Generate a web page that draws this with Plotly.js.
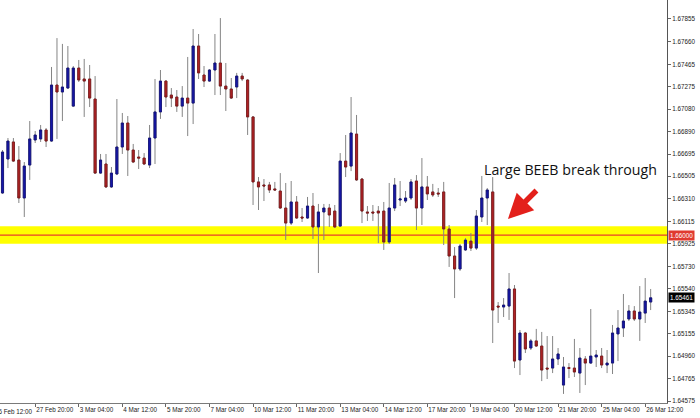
<!DOCTYPE html>
<html><head><meta charset="utf-8">
<script src="https://cdn.plot.ly/plotly-3.0.1.min.js"></script>
<style>html,body{margin:0;padding:0;background:#fff}#chart{width:700px;height:418px}</style>
</head><body><div id="chart"></div>
<script>
const openP = [1.66361,1.66653,1.66799,1.66644,1.66318,1.66601,1.66816,1.66825,1.66902,1.66807,
1.67288,1.67228,1.67262,1.67107,1.67434,1.67340,1.67340,1.67168,1.66532,1.66610,
1.66413,1.66524,1.66756,1.66962,1.66730,1.66670,1.66661,1.66601,1.66833,1.67057,
1.67322,1.67202,1.67185,1.67107,1.67176,1.67133,1.67623,1.67374,1.67322,1.67417,
1.67477,1.67279,1.67254,1.67271,1.67365,1.67331,1.67014,1.66456,1.66430,1.66430,
1.66396,1.66378,1.66232,1.66103,1.66284,1.66155,1.66146,1.66249,1.66069,1.66198,
1.66232,1.66206,1.66077,1.66635,1.66592,1.66867,1.66481,1.66198,1.66198,1.66206,
1.66206,1.65940,1.66232,1.66301,1.66292,1.66318,1.66464,1.66232,1.66413,1.66370,
1.66361,1.66370,1.66052,1.65820,1.65709,1.65872,1.65948,1.65888,1.66155,1.66318,
1.66370,1.65390,1.65382,1.65390,1.65537,1.64927,1.65159,1.65030,1.65091,1.65047,
1.64858,1.64858,1.64936,1.64712,1.64862,1.64858,1.64815,1.64936,1.64901,1.64953,
1.64961,1.64884,1.64901,1.65151,1.65202,1.65279,1.65348,1.65279,1.65330,1.65425];
const highP = [1.66730,1.66833,1.66833,1.66764,1.66627,1.66979,1.66893,1.66945,1.66919,1.67443,
1.67691,1.67641,1.67623,1.67451,1.67503,1.67512,1.67460,1.67365,1.66696,1.66696,
1.66584,1.67168,1.67048,1.67022,1.66782,1.66730,1.66704,1.66945,1.67340,1.67417,
1.67331,1.67262,1.67245,1.67279,1.67529,1.67769,1.67726,1.67451,1.67425,1.67726,
1.67863,1.67477,1.67348,1.67392,1.67392,1.67340,1.67022,1.66498,1.66481,1.66456,
1.66456,1.66532,1.66447,1.66464,1.66335,1.66232,1.66327,1.66361,1.66267,1.66267,
1.66267,1.66258,1.66704,1.66859,1.67185,1.67031,1.66490,1.66249,1.66258,1.66249,
1.66284,1.66447,1.66490,1.66464,1.66378,1.66481,1.66515,1.66661,1.66507,1.66439,
1.66404,1.66456,1.66086,1.65897,1.65923,1.65974,1.66017,1.66215,1.66507,1.66404,
1.66498,1.65425,1.65459,1.65674,1.65571,1.65185,1.65168,1.65108,1.65194,1.65168,
1.65133,1.65133,1.65030,1.64953,1.64901,1.65108,1.65030,1.64961,1.65365,1.65013,
1.65030,1.65013,1.65228,1.65356,1.65494,1.65399,1.65390,1.65562,1.65631,1.65537];
const lowP = [1.66353,1.66575,1.66627,1.66275,1.66155,1.66473,1.66790,1.66799,1.66756,1.66799,
1.66825,1.66979,1.67254,1.67099,1.67314,1.67014,1.67099,1.66524,1.66524,1.66404,
1.66404,1.66515,1.66696,1.66507,1.66618,1.66567,1.66601,1.66575,1.66610,1.66997,
1.67099,1.67099,1.67057,1.67014,1.66850,1.66953,1.67340,1.67271,1.67314,1.67202,
1.67202,1.67065,1.67168,1.67176,1.67322,1.66859,1.66258,1.66215,1.66292,1.66361,
1.66378,1.66224,1.65957,1.66086,1.66138,1.66112,1.66138,1.65966,1.65674,1.65957,
1.66069,1.66060,1.66069,1.66498,1.66549,1.66464,1.66103,1.66121,1.66121,1.65931,
1.65872,1.65923,1.66206,1.66249,1.66275,1.66301,1.66043,1.66086,1.66301,1.66327,
1.66327,1.65914,1.65726,1.65459,1.65692,1.65863,1.65863,1.65872,1.66112,1.66086,
1.65073,1.65245,1.65296,1.65271,1.64858,1.64798,1.64987,1.65013,1.65039,1.64746,
1.64764,1.64815,1.64884,1.64636,1.64772,1.64781,1.64644,1.64712,1.64893,1.64867,
1.64858,1.64815,1.64807,1.64918,1.65125,1.65262,1.65262,1.65091,1.65245,1.65356];
const closeP = [1.66713,1.66807,1.66635,1.66318,1.66592,1.66825,1.66859,1.66902,1.66807,1.67288,
1.67228,1.67271,1.67434,1.67434,1.67331,1.67322,1.67176,1.66532,1.66644,1.66413,
1.66532,1.66756,1.66962,1.66730,1.66627,1.66661,1.66610,1.66833,1.67057,1.67322,
1.67185,1.67176,1.67107,1.67176,1.67133,1.67623,1.67392,1.67322,1.67417,1.67477,
1.67279,1.67254,1.67176,1.67365,1.67340,1.67014,1.66456,1.66413,1.66421,1.66387,
1.66387,1.66232,1.66103,1.66284,1.66146,1.66146,1.66249,1.66069,1.66198,1.66232,
1.66172,1.66069,1.66635,1.66584,1.66876,1.66473,1.66206,1.66189,1.66189,1.66189,
1.65940,1.66232,1.66430,1.66310,1.66318,1.66456,1.66232,1.66413,1.66353,1.66344,
1.66353,1.66052,1.65820,1.65709,1.65906,1.65957,1.65888,1.66163,1.66318,1.66387,
1.65356,1.65382,1.65399,1.65537,1.64918,1.65159,1.65022,1.65091,1.65047,1.64841,
1.64850,1.64936,1.64979,1.64867,1.64855,1.64824,1.64944,1.64901,1.64961,1.64970,
1.64884,1.64901,1.65159,1.65202,1.65262,1.65348,1.65279,1.65339,1.65433,1.65461];

const xTickIdx = [6,14,22,30,38,46,54,62,70,78,86,94,102,110,118];
const xTickText = ['27 Feb 20:00','3 Mar 04:00','4 Mar 12:00','5 Mar 20:00','7 Mar 04:00','10 Mar 12:00','11 Mar 20:00','13 Mar 04:00','14 Mar 12:00','17 Mar 20:00','19 Mar 04:00','20 Mar 12:00','21 Mar 20:00','25 Mar 04:00','26 Mar 12:00'];
const firstTickText = '26 Feb 12:00';
const yTickVals = [1.67855,1.67660,1.67465,1.67275,1.67080,1.66890,1.66695,1.66505,1.66310,1.66115,1.65925,1.65730,1.65540,1.65345,1.65155,1.64960,1.64765,1.64575];
const zoneLow = 1.65925, zoneHigh = 1.66075, levelLine = 1.66000, lastPrice = 1.65461;

const idx = openP.map((_, i) => i);
const bodyHigh = openP.map((o, i) => Math.max(o, closeP[i]));
const bodyLow = openP.map((o, i) => Math.min(o, closeP[i]));

const BLUE = '#1717a8', RED = '#b02326', WICK = '#858585';
const tickFont = {family: 'Liberation Sans, Arial, sans-serif', size: 6.3, color: '#222'};

const wicks = {
  type: 'candlestick', x: idx, open: openP, high: highP, low: lowP, close: closeP,
  increasing: {line: {color: WICK, width: 1}, fillcolor: WICK},
  decreasing: {line: {color: WICK, width: 1}, fillcolor: WICK},
  whiskerwidth: 0, hoverinfo: 'skip', showlegend: false
};
const bodies = {
  type: 'candlestick', x: idx, open: openP, high: bodyHigh, low: bodyLow, close: closeP,
  increasing: {line: {color: '#10107a', width: 0.8}, fillcolor: BLUE},
  decreasing: {line: {color: '#7e1618', width: 0.8}, fillcolor: RED},
  whiskerwidth: 0, hoverinfo: 'skip', showlegend: false
};

const xRange = [-0.46, 122.0];
const plotW = 667;

const layout = {
  width: 700, height: 418,
  margin: {l: 0, r: 33, t: 0, b: 15, pad: 0},
  paper_bgcolor: '#fff', plot_bgcolor: '#fff',
  showlegend: false, boxgap: 0.45,
  xaxis: {
    range: xRange, rangeslider: {visible: false},
    tickvals: xTickIdx, ticktext: xTickText, tickfont: tickFont, tickangle: 0,
    ticks: 'outside', ticklen: 3, tickcolor: '#666', ticklabelposition: 'outside right',
    showline: true, linecolor: '#7a7a7a', linewidth: 1, showgrid: false, zeroline: false, fixedrange: true
  },
  yaxis: {
    side: 'right', range: [1.64558, 1.68018],
    tickvals: yTickVals, tickformat: '.5f', tickfont: tickFont,
    ticks: 'outside', ticklen: 3, tickcolor: '#666',
    showline: true, linecolor: '#555', linewidth: 1, showgrid: false, zeroline: false, fixedrange: true
  },
  shapes: [
    {type: 'rect', xref: 'paper', x0: 0, x1: 1, yref: 'y', y0: zoneLow, y1: zoneHigh,
     fillcolor: '#ffff00', line: {width: 0}, layer: 'below'},
    {type: 'line', xref: 'paper', x0: 0, x1: 1, yref: 'y', y0: levelLine, y1: levelLine,
     line: {color: '#e8402a', width: 1.3}, layer: 'below'}
  ],
  annotations: [
    {x: 104.3, y: 1.66567, xref: 'x', yref: 'y', text: 'Large BEEB break through', showarrow: false,
     font: {family: 'Open Sans, Noto Sans, sans-serif', size: 14.2, color: '#111'}},
    {x: 92.8, y: 1.66138, xref: 'x', yref: 'y', text: '', showarrow: true,
     ax: 30, ay: -30, arrowcolor: '#e3201b', arrowwidth: 5.5, arrowhead: 2, arrowsize: 0.9},
    {x: 1, xref: 'paper', xanchor: 'left', xshift: 1, y: levelLine, yref: 'y', text: levelLine.toFixed(5),
     showarrow: false, bgcolor: '#e03a30', borderpad: 1, font: {family: 'Liberation Sans, Arial, sans-serif', size: 6.3, color: '#fff'}},
    {x: 1, xref: 'paper', xanchor: 'left', xshift: 1, y: lastPrice, yref: 'y', text: lastPrice.toFixed(5),
     showarrow: false, bgcolor: '#000', borderpad: 1, font: {family: 'Liberation Sans, Arial, sans-serif', size: 6.3, color: '#fff'}},
    {x: (-2 - xRange[0]) / (xRange[1] - xRange[0]), xref: 'paper', xanchor: 'left', xshift: 1,
     y: 0, yref: 'paper', yanchor: 'top', yshift: -3,
     text: firstTickText, showarrow: false, font: tickFont}
  ]
};

Plotly.newPlot('chart', [wicks, bodies], layout, {staticPlot: true, displayModeBar: false});
</script>
</body></html>
